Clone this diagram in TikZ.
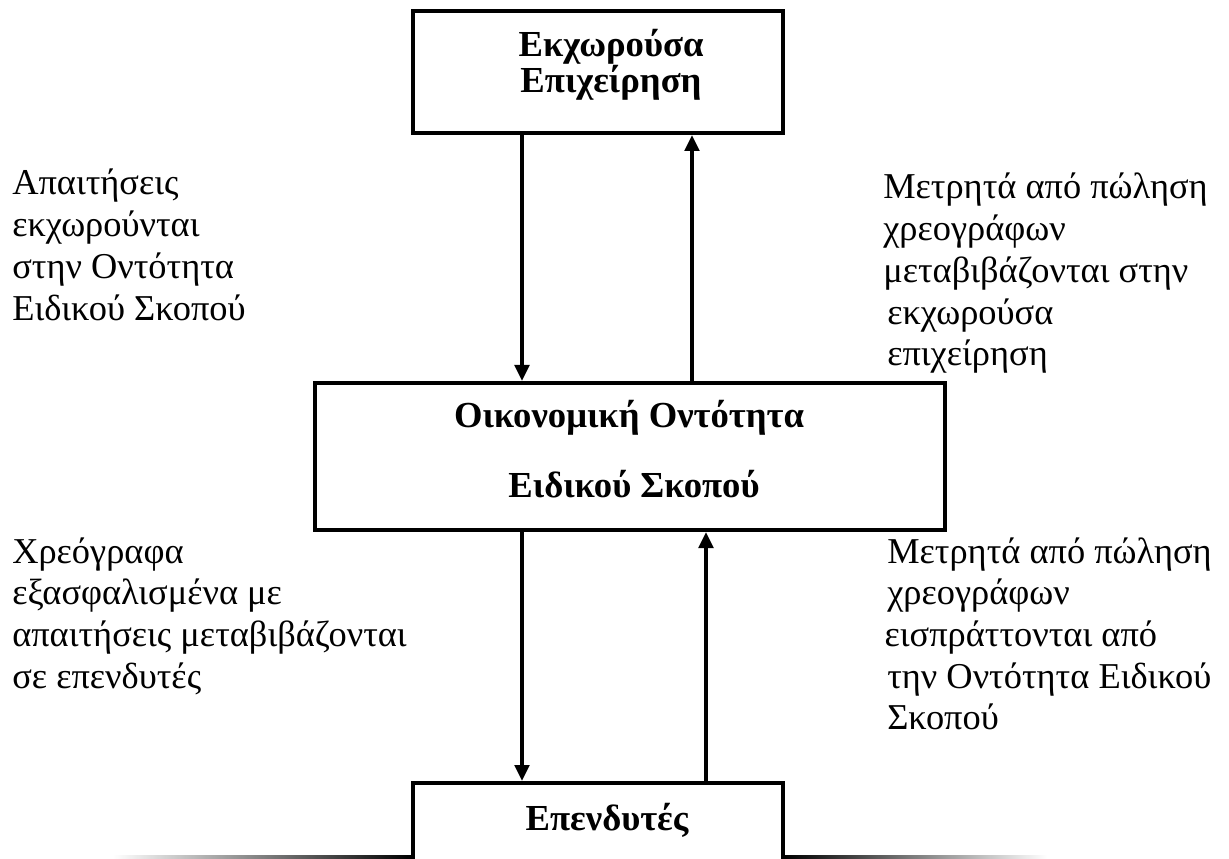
\documentclass[tikz,border=0pt]{standalone}
\usepackage{fontspec}
\setmainfont{Liberation Serif}
\usetikzlibrary{arrows.meta,calc}
\newcommand\rtxt{\fontsize{27.3pt}{31.3pt}\selectfont}
\newcommand\btxt{\fontsize{27.5pt}{30pt}\selectfont\bfseries}
\begin{document}
\begin{tikzpicture}[x=0.75pt,y=-0.75pt,
  box/.style={draw, line width=3pt, inner sep=0pt, fill=white},
  arr/.style={line width=2.6pt, -{Triangle[width=11pt,length=12pt]}},
  txt/.style={inner sep=0pt, anchor=base west},
  btx/.style={inner sep=0pt, anchor=base}]
\clip (0,0) rectangle (1229,859);
\fill[white] (0,0) rectangle (1229,859);
% boxes
\node[box, minimum width=277.5pt, minimum height=91.5pt] (top) at (598,72) {};
\node[box, minimum width=472.5pt, minimum height=110.25pt] (mid) at (630,456.5) {};
\node[box, minimum width=277.5pt, minimum height=69pt] (inv) at (598,829) {};
% box texts
\node[btx] (topT1) at (611,57) {\btxt Εκχωρούσα};
\node[btx] (topT2) at (611,93) {\btxt Επιχείρηση};
\node[btx] (midT1) at (629,428) {\btxt Οικονομική Οντότητα};
\node[btx] (midT2) at (634,498) {\btxt Ειδικού Σκοπού};
\node[btx] (invT) at (607,830) {\btxt Επενδυτές};
% arrows
\coordinate (a1) at (522,0);
\coordinate (a2) at (692,0);
\coordinate (a3) at (706,0);
\draw[arr] (top.south -| a1) -- (mid.north -| a1);
\draw[arr] (mid.north -| a2) -- (top.south -| a2);
\draw[arr] (mid.south -| a1) -- (inv.north -| a1);
\draw[arr] (inv.north -| a3) -- (mid.south -| a3);
% fading base lines
\coordinate (gl) at (113,857);
\coordinate (gr) at (1047,857);
\shade[left color=white, right color=black] ($(gl)+(0,-1.2)$) rectangle ($(inv.south west |- gl)+(0,1.2)$);
\shade[left color=black, right color=white] ($(inv.south east |- gr)+(0,-1.2)$) rectangle ($(gr)+(0,1.2)$);
% side texts
\node[txt] (lt) at (12,195) {\rtxt\vtop{\hbox{Απαιτήσεις}\hbox{εκχωρούνται}\hbox{στην Οντότητα}\hbox{Ειδικού Σκοπού}}};
\node[txt] (rt) at (883,199) {\rtxt\vtop{\hbox{Μετρητά από πώληση}\hbox{χρεογράφων}\hbox{μεταβιβάζονται στην}\hbox{\kern3pt εκχωρούσα}\hbox{\kern3pt επιχείρηση}}};
\node[txt] (lb) at (12,563) {\rtxt\vtop{\hbox{Χρεόγραφα}\hbox{εξασφαλισμένα με}\hbox{απαιτήσεις μεταβιβάζονται}\hbox{σε επενδυτές}}};
\node[txt] (rb) at (887,563) {\rtxt\vtop{\hbox{Μετρητά από πώληση}\hbox{χρεογράφων}\hbox{\kern-2pt εισπράττονται από}\hbox{την Οντότητα Ειδικού}\hbox{Σκοπού}}};
\end{tikzpicture}
\end{document}
